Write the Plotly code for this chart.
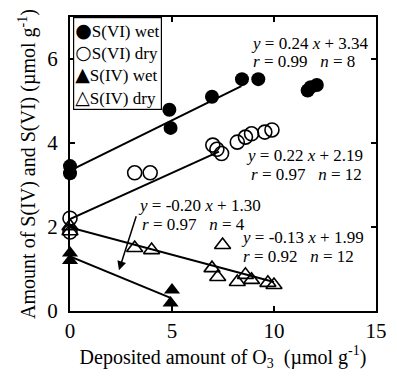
import plotly.graph_objects as go

# ---- data ----
s6_wet_x = [0, 0, 4.87, 4.93, 6.96, 8.43, 9.23, 11.65, 11.8, 12.1]
s6_wet_y = [3.45, 3.28, 4.79, 4.36, 5.10, 5.52, 5.52, 5.25, 5.33, 5.38]

s6_dry_x = [0, 0, 3.17, 3.93, 7.0, 7.2, 7.43, 8.2, 8.6, 8.9, 9.55, 9.9]
s6_dry_y = [2.21, 1.88, 3.29, 3.29, 3.95, 3.85, 3.75, 4.02, 4.14, 4.22, 4.26, 4.31]

s4_wet_x = [0, 0, 5.0, 4.93]
s4_wet_y = [1.38, 1.2, 0.5, 0.19]

s4_dry_x = [0, 0, 3.17, 4.0, 7.48, 6.96, 7.24, 8.2, 8.6, 8.9, 9.7, 10.0]
s4_dry_y = [2.02, 1.9, 1.5, 1.45, 1.57, 1.02, 0.81, 0.69, 0.86, 0.74, 0.67, 0.62]

# regression lines: slope, intercept, x-extent
fit_slope = [0.24, 0.22, -0.20, -0.13]
fit_icpt = [3.34, 2.19, 1.30, 1.99]
fit_xmax = [8.4, 7.3, 4.9, 10.0]

fit_text = [
    ("<i>y</i> = 0.24 <i>x</i> + 3.34", "<i>r</i> = 0.99\u00a0\u00a0\u00a0<i>n</i> = 8"),
    ("<i>y</i> = 0.22 <i>x</i> + 2.19", "<i>r</i> = 0.97\u00a0\u00a0\u00a0<i>n</i> = 12"),
    ("<i>y</i> = -0.20 <i>x</i> + 1.30", "<i>r</i> = 0.97\u00a0\u00a0\u00a0<i>n</i> = 4"),
    ("<i>y</i> = -0.13 <i>x</i> + 1.99", "<i>r</i> = 0.92\u00a0\u00a0\u00a0<i>n</i> = 12"),
]
# annotation anchor positions (data units): (x1, y1, x2, y2)
fit_pos = [
    (8.76, 6.38, 8.85, 5.93),
    (8.52, 3.71, 8.76, 3.24),
    (3.22, 2.52, 3.41, 2.07),
    (8.28, 1.74, 8.38, 1.29),
]

legend_names = ["S(VI) wet", "S(VI) dry", "S(IV) wet", "S(IV) dry"]
legend_glyphs = ["\u25CF", "\u25CB", "\u25B2", "\u25B3"]

FONT = "Liberation Serif, Times New Roman, serif"
fig = go.Figure()

# fit lines
for m, b, xm in zip(fit_slope, fit_icpt, fit_xmax):
    xs = [0, xm]
    fig.add_trace(go.Scatter(x=xs, y=[b + m * v for v in xs], mode="lines",
                             line=dict(color="black", width=2), showlegend=False,
                             hoverinfo="skip"))

ms = 14
fig.add_trace(go.Scatter(x=s6_wet_x, y=s6_wet_y, mode="markers", name=legend_names[0],
                         marker=dict(symbol="circle", size=ms, color="black"),
                         cliponaxis=False))
fig.add_trace(go.Scatter(x=s6_dry_x, y=s6_dry_y, mode="markers", name=legend_names[1],
                         marker=dict(symbol="circle-open", size=ms, color="black",
                                     line=dict(width=1.6)),
                         cliponaxis=False))
fig.add_trace(go.Scatter(x=s4_wet_x, y=s4_wet_y, mode="markers", name=legend_names[2],
                         marker=dict(symbol="triangle-up", size=ms, color="black"),
                         cliponaxis=False))
fig.add_trace(go.Scatter(x=s4_dry_x, y=s4_dry_y, mode="markers", name=legend_names[3],
                         marker=dict(symbol="triangle-up-open", size=ms, color="black",
                                     line=dict(width=1.6)),
                         cliponaxis=False))

for (t1, t2), (x1, y1, x2, y2) in zip(fit_text, fit_pos):
    fig.add_annotation(x=x1, y=y1, text=t1, showarrow=False, xanchor="left",
                       yanchor="middle", font=dict(family=FONT, size=17, color="black"))
    fig.add_annotation(x=x2, y=y2, text=t2, showarrow=False, xanchor="left",
                       yanchor="middle", font=dict(family=FONT, size=17, color="black"))

# arrow from S(IV) wet label to its line
fig.add_annotation(x=2.4, y=0.97, ax=3.27, ay=2.29, xref="x", yref="y",
                   axref="x", ayref="y", text="", showarrow=True,
                   arrowhead=2, arrowsize=1.2, arrowwidth=1.5, arrowcolor="black")

# legend box (text)
g = '<span style="font-family:DejaVu Sans;font-size:19px">%s</span>'
legend_txt = "<br>".join(g % s + n for s, n in zip(legend_glyphs, legend_names))
fig.add_annotation(x=0.01, y=1.0, xref="paper", yref="paper", xanchor="left",
                   yanchor="top", align="left", showarrow=False, text=legend_txt,
                   font=dict(family=FONT, size=17, color="black"),
                   bordercolor="black", borderwidth=1.2, borderpad=1,
                   bgcolor="white")

axis_common = dict(showgrid=False, zeroline=False, showline=True, linecolor="black",
                   linewidth=2, mirror="ticks", ticks="inside", ticklen=5,
                   tickwidth=1.5, tickcolor="black", layer="below traces",
                   tickfont=dict(family=FONT, size=21, color="black"))
fig.update_xaxes(range=[0, 15], dtick=5, tick0=0,
                 title=dict(text="Deposited amount of O<sub>3</sub>\u00a0 (\u00b5mol g<sup>-1</sup>)",
                            font=dict(family=FONT, size=20, color="black"), standoff=4),
                 **axis_common)
fig.update_yaxes(range=[0, 7], dtick=2, tick0=0, ticklabelstandoff=6,
                 title=dict(text="Amount of S(IV) and S(VI) (\u00b5mol g<sup>-1</sup>)",
                            font=dict(family=FONT, size=20, color="black"), standoff=6),
                 **axis_common)

fig.update_layout(width=397, height=376, showlegend=False,
                  margin=dict(l=70, r=10, t=17, b=65),
                  plot_bgcolor="white", paper_bgcolor="white")
fig.write_html("out.html")
